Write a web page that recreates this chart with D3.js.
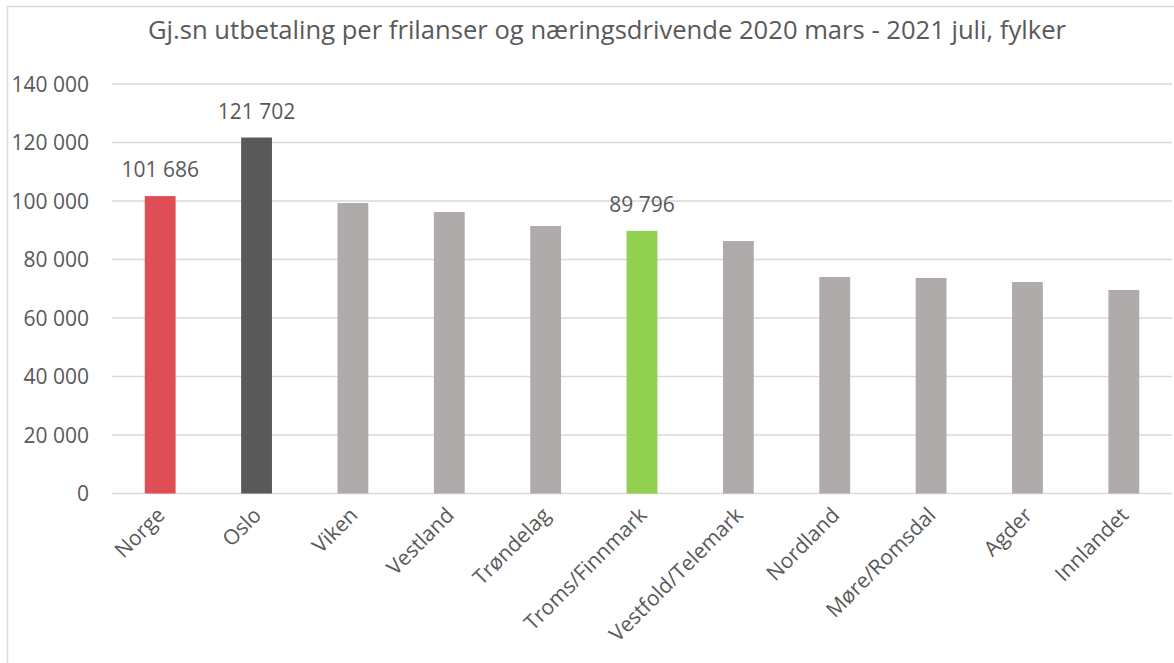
<!DOCTYPE html>
<html>
<head>
<meta charset="utf-8">
<script src="https://cdn.jsdelivr.net/npm/d3@7"></script>
<style>
  body { margin: 0; background: #fff; }
  text { font-family: "Open Sans", sans-serif; fill: #595959; }
</style>
</head>
<body>
<div id="chart"></div>
<script>
// chart data
var titleText = 'Gj.sn utbetaling per frilanser og næringsdrivende 2020 mars - 2021 juli, fylker';
var regions = ['Norge', 'Oslo', 'Viken', 'Vestland', 'Trøndelag', 'Troms/Finnmark',
  'Vestfold/Telemark', 'Nordland', 'Møre/Romsdal', 'Agder', 'Innlandet'];
var payouts = [101686, 121702, 99300, 96250, 91450, 89796, 86300, 74000, 73700, 72300, 69600];
var barColors = ['#e04e55', '#595959', '#afabab', '#afabab', '#afabab', '#92d050',
  '#afabab', '#afabab', '#afabab', '#afabab', '#afabab'];
var labelled = ['Norge', 'Oslo', 'Troms/Finnmark'];
var yTicks = [0, 20000, 40000, 60000, 80000, 100000, 120000, 140000];

var width = 1174, height = 663;
var margin = { top: 84, right: 2, bottom: 170, left: 112 };

var data = regions.map(function (r, i) {
  return { region: r, value: payouts[i], color: barColors[i] };
});

// format numbers with a space as thousands separator
function fmt(v) {
  return d3.format(',')(v).replace(/,/g, ' ');
}

var svg = d3.select('#chart').append('svg')
  .attr('width', width)
  .attr('height', height);

// chart frame (runs off the right and bottom edges)
svg.append('rect')
  .attr('x', 7.5).attr('y', 6.5)
  .attr('width', 1200).attr('height', 700)
  .attr('fill', 'none')
  .attr('stroke', '#d9d9d9')
  .attr('stroke-width', 1.5);

svg.append('text')
  .attr('x', 148).attr('y', 39)
  .attr('textLength', 918)
  .attr('lengthAdjust', 'spacingAndGlyphs')
  .style('font-size', '25px')
  .text(titleText);

var x = d3.scaleBand()
  .domain(regions)
  .range([margin.left, width - margin.right])
  .paddingInner(0.68)
  .paddingOuter(0.34);

var y = d3.scaleLinear()
  .domain([0, 140000])
  .range([height - margin.bottom + 0.5, margin.top]);

// gridlines
svg.append('g')
  .selectAll('line')
  .data(yTicks)
  .enter().append('line')
  .attr('x1', margin.left)
  .attr('x2', width - margin.right)
  .attr('y1', function (d) { return y(d); })
  .attr('y2', function (d) { return y(d); })
  .attr('stroke', '#d9d9d9')
  .attr('stroke-width', 1.5);

// y axis labels
var yAxis = svg.append('g')
  .attr('transform', 'translate(' + (margin.left - 23) + ',0)')
  .call(d3.axisLeft(y).tickValues(yTicks).tickFormat(fmt).tickSize(0));
yAxis.select('.domain').remove();
yAxis.selectAll('text')
  .attr('x', 0)
  .attr('dy', '0.35em')
  .style('font-size', '21px')
  .style('font-family', '"Open Sans", sans-serif')
  .attr('fill', '#595959');

// bars
svg.selectAll('.bar')
  .data(data)
  .enter().append('rect')
  .attr('class', 'bar')
  .attr('x', function (d) { return x(d.region); })
  .attr('width', x.bandwidth())
  .attr('y', function (d) { return y(d.value); })
  .attr('height', function (d) { return y(0) - y(d.value); })
  .attr('fill', function (d) { return d.color; });

// value labels for highlighted bars
svg.selectAll('.vlabel')
  .data(data.filter(function (d) { return labelled.indexOf(d.region) >= 0; }))
  .enter().append('text')
  .attr('class', 'vlabel')
  .attr('x', function (d) { return x(d.region) + x.bandwidth() / 2; })
  .attr('y', function (d) { return y(d.value) - 19; })
  .attr('text-anchor', 'middle')
  .style('font-size', '21px')
  .text(function (d) { return fmt(d.value); });

// x axis category labels
var xAxis = svg.append('g')
  .attr('transform', 'translate(0,' + y(0) + ')')
  .call(d3.axisBottom(x).tickSize(0));
xAxis.select('.domain').remove();
xAxis.selectAll('text')
  .attr('y', 0).attr('dy', 0)
  .attr('text-anchor', 'end')
  .attr('transform', 'translate(6,23) rotate(-45)')
  .style('font-size', '21px')
  .style('font-family', '"Open Sans", sans-serif')
  .attr('fill', '#595959');
</script>
</body>
</html>
